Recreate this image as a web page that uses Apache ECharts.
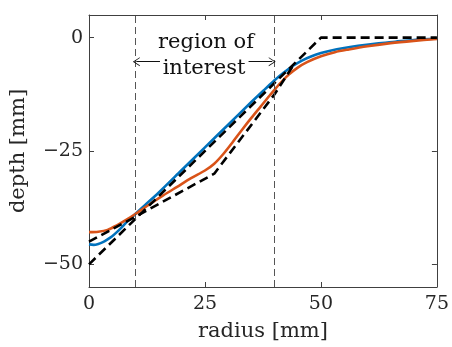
<!DOCTYPE html>
<html>
<head>
<meta charset="utf-8">
<script src="https://cdn.jsdelivr.net/npm/echarts@6/dist/echarts.min.js"></script>
<style>
html,body{margin:0;padding:0;background:#fff;}
#chart{width:452px;height:347px;}
</style>
</head>
<body>
<div id="chart"></div>
<script>
// ---- data ----
const xTicks = [0, 25, 50, 75];
const yTicks = [-50, -25, 0];

const blueX = [0, 1, 2, 3, 4, 5, 6, 7, 8, 9, 10, 12, 15, 20, 25, 30, 35, 38, 40, 42, 44, 46, 48, 50, 52, 55, 58, 62, 66, 70, 75];
const blueY = [-45.6, -45.7, -45.5, -45.1, -44.5, -43.8, -42.9, -41.9, -40.8, -39.8, -38.9, -37.0, -34.2, -29.2, -24.2, -19.2, -14.2, -11.3, -9.4, -7.7, -6.2, -5.0, -4.1, -3.4, -2.9, -2.3, -1.8, -1.3, -0.9, -0.5, -0.2];

const orangeX = [0, 2, 4, 6, 8, 10, 13, 16, 19, 22, 25, 27, 29, 31, 33, 35, 37, 39, 41, 43, 45, 47, 50, 53, 56, 60, 65, 70, 75];
const orangeY = [-42.9, -42.8, -42.4, -41.4, -40.2, -38.9, -36.8, -34.8, -32.9, -31.0, -29.3, -27.8, -25.6, -23.0, -20.3, -17.7, -15.2, -12.7, -10.3, -8.2, -6.6, -5.4, -4.1, -3.2, -2.6, -1.9, -1.2, -0.7, -0.3];

const fit1X = [0, 50, 75];
const fit1Y = [-50, 0, 0];

const fit2X = [0, 10, 27, 40, 44.3];
const fit2Y = [-45, -39.5, -30, -12.5, -5.7];

const regionBounds = [10, 40];
const arrowY = -5.3;
const arrowLeft = [15.3, 10.2];
const arrowRight = [34.4, 39.5];

const zip = (xs, ys) => xs.map((x, i) => [x, ys[i]]);
const minusFmt = v => String(v).replace('-', '\u2212');

const FONT = 'DejaVu Serif';
const AX = '#404040';

const chart = echarts.init(document.getElementById('chart'), null, {renderer: 'canvas'});

const baseX = {
  type: 'value', min: 0, max: 75, interval: 25,
  splitLine: {show: false},
  axisLine: {show: true, onZero: false, lineStyle: {color: AX, width: 1}},
  axisTick: {show: true, inside: true, length: 5, lineStyle: {color: AX}},
};
const baseY = {
  type: 'value', min: -55, max: 5,
  splitLine: {show: false},
  axisLine: {show: true, onZero: false, lineStyle: {color: AX, width: 1}},
  axisTick: {show: true, inside: true, length: 5, customValues: yTicks, lineStyle: {color: AX}},
};

const chevron = 'path://M0,10 L5,0 L10,10 L9,10 L5,2.2 L1,10 Z';
const dashStyle = {color: '#000', width: 2.6, type: [9, 5], cap: 'butt'};

chart.setOption({
  animation: false,
  backgroundColor: '#fff',
  grid: {left: 86, right: 13, top: 15, bottom: 54, containLabel: false},
  xAxis: [
    Object.assign({}, baseX, {
      position: 'bottom',
      name: 'radius [mm]', nameLocation: 'middle', nameGap: 34,
      nameTextStyle: {fontFamily: FONT, fontSize: 21, color: '#262626'},
      axisLabel: {show: true, margin: 8, fontFamily: FONT, fontSize: 19, color: '#262626', formatter: minusFmt},
    }),
    Object.assign({}, baseX, {position: 'top', axisLabel: {show: false}}),
  ],
  yAxis: [
    Object.assign({}, baseY, {
      position: 'left',
      name: 'depth [mm]', nameLocation: 'middle', nameGap: 60, nameRotate: 90,
      nameTextStyle: {fontFamily: FONT, fontSize: 21, color: '#262626'},
      axisLabel: {show: true, margin: 6, customValues: yTicks, fontFamily: FONT, fontSize: 19, color: '#262626', formatter: minusFmt},
    }),
    Object.assign({}, baseY, {position: 'right', axisLabel: {show: false}}),
  ],
  series: [
    {
      type: 'line', name: 'blue', data: zip(blueX, blueY), showSymbol: false, smooth: 0.3,
      lineStyle: {color: '#0072BD', width: 2.6}, z: 2,
      markLine: {
        silent: true, symbol: ['none', 'none'],
        label: {show: false},
        lineStyle: {color: '#555', width: 1, type: [7, 4]},
        data: regionBounds.map(v => ({xAxis: v}))
      }
    },
    {
      type: 'line', name: 'orange', data: zip(orangeX, orangeY), showSymbol: false, smooth: 0.3,
      lineStyle: {color: '#D95319', width: 2.6}, z: 2
    },
    {
      type: 'line', name: 'fit1', data: zip(fit1X, fit1Y), showSymbol: false,
      lineStyle: dashStyle, z: 3
    },
    {
      type: 'line', name: 'fit2', data: zip(fit2X, fit2Y), showSymbol: false,
      lineStyle: dashStyle, z: 3,
      markLine: {
        silent: true, symbol: ['none', chevron], symbolSize: [9, 7],
        label: {show: false},
        lineStyle: {color: '#111', width: 1, type: 'solid'},
        data: [
          [{coord: [arrowLeft[0], arrowY]}, {coord: [arrowLeft[1], arrowY]}],
          [{coord: [arrowRight[0], arrowY]}, {coord: [arrowRight[1], arrowY]}]
        ]
      }
    }
  ]
});

// annotation text placed relative to the axes
const p1 = chart.convertToPixel({xAxisIndex: 0, yAxisIndex: 0}, [25, -3.4]);
const p2 = chart.convertToPixel({xAxisIndex: 0, yAxisIndex: 0}, [24.8, -9.1]);
chart.setOption({
  graphic: [
    {type: 'text', id: 't1', x: p1[0] + 1, y: p1[1], style: {text: 'region of', fontFamily: FONT, fontSize: 21, fill: '#111', align: 'center', verticalAlign: 'bottom'}},
    {type: 'text', id: 't2', x: p2[0], y: p2[1], style: {text: 'interest', fontFamily: FONT, fontSize: 21, fill: '#111', align: 'center', verticalAlign: 'bottom'}}
  ]
});
</script>
</body>
</html>
